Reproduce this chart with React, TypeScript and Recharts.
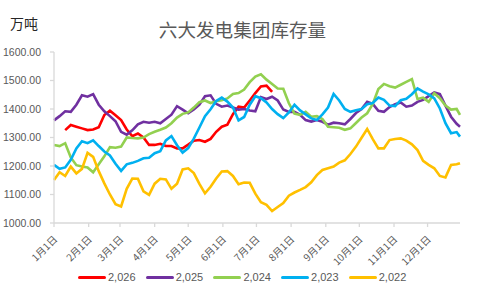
import React from 'react';
import { LineChart, Line, XAxis, YAxis } from 'recharts';

// day-of-year positions (every 5 days, last one Dec 30)
const days = [
  0, 5, 10, 15, 20, 25, 30, 35, 40, 45, 50, 55, 60, 65, 70, 75, 80, 85, 90, 95,
  100, 105, 110, 115, 120, 125, 130, 135, 140, 145, 150, 155, 160, 165, 170, 175, 180, 185, 190, 195,
  200, 205, 210, 215, 220, 225, 230, 235, 240, 245, 250, 255, 260, 265, 270, 275, 280, 285, 290, 295,
  300, 305, 310, 315, 320, 325, 330, 335, 340, 345, 350, 355, 360, 363,
];

const monthStarts = [0, 31, 59, 90, 120, 151, 181, 212, 243, 273, 304, 334];
const monthLabels = ['1月1日', '2月1日', '3月1日', '4月1日', '5月1日', '6月1日', '7月1日', '8月1日', '9月1日', '10月1日', '11月1日', '12月1日'];
const yTicks = [1000, 1100, 1200, 1300, 1400, 1500, 1600];

// 2026 only runs from mid Jan to mid Jul
const s2026 = [
  null, null, 1326, 1344, 1338, 1332, 1326, 1328, 1336, 1379,
  1394, 1378, 1361, 1328, 1305, 1314, 1300, 1274, 1274, 1278,
  1270, 1270, 1262, 1262, 1275, 1289, 1291, 1285, 1295, 1320,
  1338, 1345, 1382, 1408, 1405, 1430, 1456, 1479, 1482, 1460,
];
const s2025 = [
  1360, 1375, 1392, 1390, 1415, 1448, 1443, 1452, 1415, 1392,
  1375, 1357, 1320, 1310, 1325, 1346, 1355, 1352, 1355, 1350,
  1365, 1380, 1410, 1398, 1385, 1398, 1415, 1445, 1448, 1418,
  1408, 1412, 1405, 1398, 1400, 1395, 1392, 1442, 1435, 1443,
  1430, 1398, 1390, 1390, 1380, 1361, 1356, 1361, 1355, 1345,
  1352, 1350, 1346, 1365, 1386, 1400, 1425, 1418, 1394, 1390,
  1407, 1417, 1423, 1408, 1412, 1425, 1432, 1445, 1458, 1452,
  1412, 1373, 1348, 1338,
];
const s2024 = [
  1274, 1270, 1280, 1230, 1203, 1198, 1195, 1178, 1206, 1234,
  1266, 1264, 1268, 1300, 1298, 1297, 1300, 1312, 1320, 1327,
  1335, 1350, 1370, 1383, 1388, 1405, 1424, 1430, 1421, 1427,
  1431, 1437, 1453, 1456, 1468, 1494, 1514, 1522, 1503, 1488,
  1472, 1471, 1420, 1384, 1379, 1390, 1373, 1375, 1365, 1338,
  1336, 1334, 1327, 1332, 1351, 1370, 1385, 1418, 1470, 1488,
  1480, 1475, 1485, 1495, 1505, 1435, 1440, 1425, 1455, 1438,
  1412, 1398, 1400, 1379,
];
const s2023 = [
  1204, 1190, 1195, 1222, 1262, 1287, 1280, 1290, 1270, 1251,
  1237, 1208, 1183, 1206, 1211, 1218, 1227, 1229, 1245, 1252,
  1290, 1305, 1273, 1247, 1263, 1296, 1335, 1375, 1399, 1428,
  1440, 1426, 1405, 1360, 1372, 1415, 1445, 1438, 1423, 1400,
  1382, 1368, 1388, 1415, 1395, 1381, 1367, 1361, 1381, 1405,
  1453, 1430, 1400, 1390, 1396, 1400, 1417, 1421, 1440, 1432,
  1412, 1410, 1431, 1436, 1452, 1472, 1461, 1451, 1437, 1402,
  1350, 1315, 1319, 1303,
];
const s2022 = [
  1151, 1178, 1165, 1198, 1174, 1190, 1246, 1232, 1182, 1139,
  1100, 1066, 1058, 1120, 1156, 1155, 1111, 1099, 1138, 1155,
  1153, 1120, 1138, 1188, 1192, 1175, 1137, 1104, 1127, 1156,
  1181, 1182, 1165, 1136, 1142, 1141, 1103, 1073, 1064, 1042,
  1056, 1070, 1096, 1107, 1116, 1126, 1143, 1168, 1186, 1192,
  1198, 1212, 1220, 1242, 1268, 1299, 1330, 1294, 1262, 1262,
  1291, 1295, 1297, 1289, 1276, 1256, 1218, 1204, 1192, 1165,
  1160, 1204, 1206, 1210,
];

const series = [
  { key: 's2026', name: '2,026', color: '#FF0000' },
  { key: 's2025', name: '2,025', color: '#7030A0' },
  { key: 's2024', name: '2,024', color: '#92D050' },
  { key: 's2023', name: '2,023', color: '#00B0F0' },
  { key: 's2022', name: '2,022', color: '#FFC000' },
];

const data = days.map((day, i) => ({
  day,
  s2026: s2026[i] ?? null,
  s2025: s2025[i],
  s2024: s2024[i],
  s2023: s2023[i],
  s2022: s2022[i],
}));

const grey = '#595959';
const axisGrey = '#D9D9D9';

const MonthTick = (props: any) => {
  const { x, y, payload } = props;
  const idx = monthStarts.indexOf(payload.value);
  const ax = x + 4;
  const ay = y + 11;
  return (
    <text
      x={ax}
      y={ay}
      transform={`rotate(-45 ${ax} ${ay})`}
      textAnchor="end"
      fontSize={10}
      fill={grey}
      fontFamily='"Noto Sans CJK SC", sans-serif'
    >
      {monthLabels[idx]}
    </text>
  );
};

export default function App() {
  return (
    <div style={{ position: 'absolute', left: 0, top: 0, width: 480, height: 288, background: '#fff', fontFamily: '"Liberation Sans", Arial, sans-serif' }}>
      <div style={{ position: 'absolute', left: 10, top: 14, fontSize: 14, color: '#262626', fontFamily: '"Noto Sans CJK SC", sans-serif', lineHeight: '18px' }}>
        万吨
      </div>
      <div style={{ position: 'absolute', left: 0, width: 485, top: 16, textAlign: 'center', fontSize: 18.6, color: grey, fontFamily: '"Noto Sans CJK SC", sans-serif', lineHeight: '26px' }}>
        六大发电集团库存量
      </div>
      <LineChart width={480} height={288} data={data} margin={{ top: 52, right: 20, bottom: 0, left: 0 }} style={{ position: 'absolute', left: 0, top: 0 }}>
        <XAxis
          dataKey="day"
          type="number"
          domain={[0, 363]}
          ticks={monthStarts}
          interval={0}
          height={65}
          tickSize={4}
          tickMargin={2}
          stroke={axisGrey}
          strokeWidth={1.3}
          tick={<MonthTick />}
        />
        <YAxis
          type="number"
          domain={[1000, 1600]}
          ticks={yTicks}
          width={54}
          tickSize={4}
          tickMargin={9}
          stroke={axisGrey}
          strokeWidth={1.3}
          tick={{ fill: grey, fontSize: 10.5 }}
          tickFormatter={(v: number) => v.toFixed(2)}
        />
        {series.map((s) => (
          <Line
            key={s.key}
            dataKey={s.key}
            name={s.name}
            stroke={s.color}
            strokeWidth={2.6}
            dot={false}
            type="linear"
            isAnimationActive={false}
            connectNulls={false}
          />
        ))}
      </LineChart>
      <div style={{ position: 'absolute', left: 78, top: 268, display: 'flex', alignItems: 'center', height: 18 }}>
        {series.map((s) => (
          <div key={s.key} style={{ display: 'flex', alignItems: 'center', width: 67.7 }}>
            <div style={{ width: 28, height: 3, background: s.color, borderRadius: 1.5 }} />
            <span style={{ marginLeft: 2, fontSize: 11, color: grey }}>{s.name}</span>
          </div>
        ))}
      </div>
    </div>
  );
}
